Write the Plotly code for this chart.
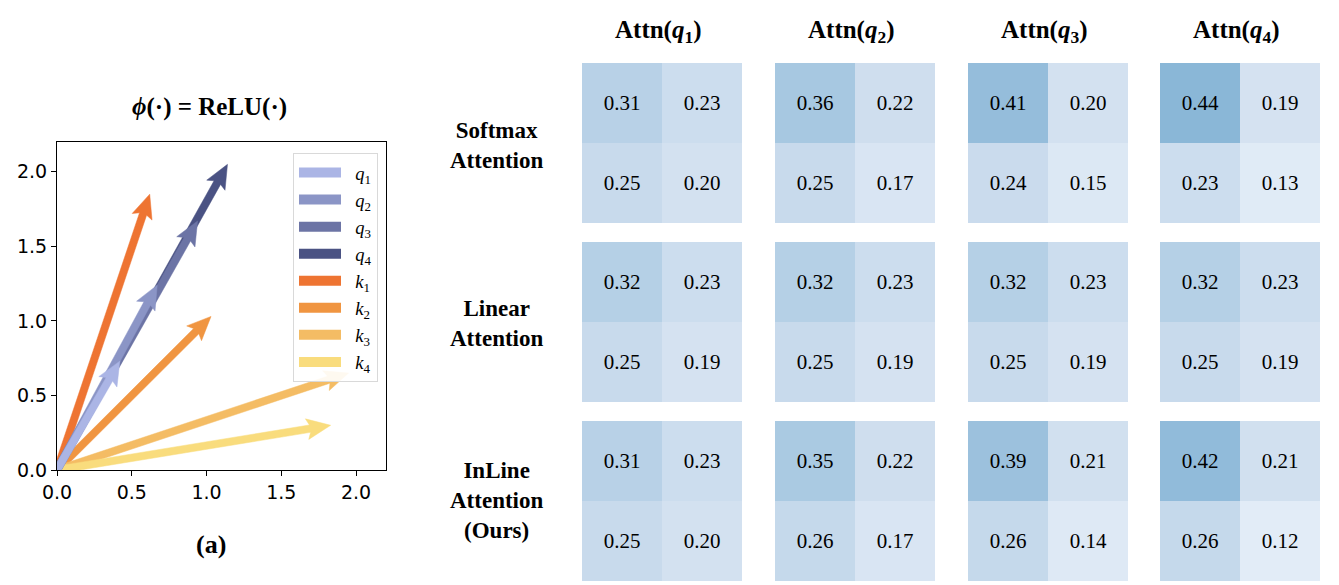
import numpy as np
import plotly.graph_objects as go

# ---------------- data ----------------
vec_names = ["q1", "q2", "q3", "q4", "k1", "k2", "k3", "k4"]
vec_labels = ["<i>q</i><sub>1</sub>", "<i>q</i><sub>2</sub>", "<i>q</i><sub>3</sub>", "<i>q</i><sub>4</sub>",
              "<i>k</i><sub>1</sub>", "<i>k</i><sub>2</sub>", "<i>k</i><sub>3</sub>", "<i>k</i><sub>4</sub>"]
vec_x = [0.42, 0.67, 0.94, 1.14, 0.62, 1.03, 1.95, 1.83]
vec_y = [0.73, 1.24, 1.67, 2.05, 1.85, 1.03, 0.65, 0.30]
vec_colors = ["#abb5e5", "#8b95c6", "#6c74a5", "#4a5283",
              "#ee7432", "#f09541", "#f4bc64", "#f9dc7d"]
draw_order = [4, 5, 6, 7, 3, 2, 1, 0]

col_titles = ["<b>Attn(<i>q</i><sub>1</sub>)</b>", "<b>Attn(<i>q</i><sub>2</sub>)</b>",
              "<b>Attn(<i>q</i><sub>3</sub>)</b>", "<b>Attn(<i>q</i><sub>4</sub>)</b>"]
row_titles = ["<b>Softmax<br>Attention</b>", "<b>Linear<br>Attention</b>",
              "<b>InLine<br>Attention<br>(Ours)</b>"]

softmax = [[[0.31, 0.23], [0.25, 0.20]], [[0.36, 0.22], [0.25, 0.17]],
           [[0.41, 0.20], [0.24, 0.15]], [[0.44, 0.19], [0.23, 0.13]]]
linear = [[[0.32, 0.23], [0.25, 0.19]], [[0.32, 0.23], [0.25, 0.19]],
          [[0.32, 0.23], [0.25, 0.19]], [[0.32, 0.23], [0.25, 0.19]]]
inline = [[[0.31, 0.23], [0.25, 0.20]], [[0.35, 0.22], [0.26, 0.17]],
          [[0.39, 0.21], [0.26, 0.14]], [[0.42, 0.21], [0.26, 0.12]]]
attn_rows = [softmax, linear, inline]

zmin, zmax = 0.12, 0.44
cs_vals = [0.12, 0.20, 0.25, 0.32, 0.44]
cs_cols = ["rgb(226,236,247)", "rgb(211,225,240)", "rgb(200,218,236)",
           "rgb(181,208,230)", "rgb(138,183,215)"]
colorscale = [[(v - zmin) / (zmax - zmin), c] for v, c in zip(cs_vals, cs_cols)]

# ---------------- figure ----------------
W, H = 1339, 585
fig = go.Figure()

# arrow geometry (data units)
w_half, head_half, head_len, head_ax = 0.025, 0.07, 0.16, 0.14


def arrow_poly(tx, ty):
    L = np.hypot(tx, ty)
    u = np.array([tx, ty]) / L
    n = np.array([-u[1], u[0]])
    pts = [w_half * n,
           (L - head_ax) * u + w_half * n,
           (L - head_len) * u + head_half * n,
           L * u,
           (L - head_len) * u - head_half * n,
           (L - head_ax) * u - w_half * n,
           -w_half * n]
    pts.append(pts[0])
    return [p[0] for p in pts], [p[1] for p in pts]


for i in draw_order:
    px, py = arrow_poly(vec_x[i], vec_y[i])
    fig.add_trace(go.Scatter(x=px, y=py, mode="lines", fill="toself",
                             fillcolor=vec_colors[i], line=dict(width=0.5, color=vec_colors[i]),
                             showlegend=False, hoverinfo="skip", xaxis="x", yaxis="y"))

for i in range(len(vec_names)):
    fig.add_trace(go.Scatter(x=[None], y=[None], mode="lines",
                             name="\u00a0\u00a0" + vec_labels[i],
                             line=dict(width=18, color=vec_colors[i]),
                             showlegend=True, xaxis="x", yaxis="y", legendrank=i + 1))

# heatmap grid
x_blocks = [(582, 742), (775, 935), (968, 1128), (1160, 1320)]
y_blocks = [(63, 223), (242, 402), (421, 581)]

tickfont = dict(family="DejaVu Sans", size=19, color="black")
layout = dict(
    width=W, height=H, margin=dict(l=0, r=0, t=0, b=0, autoexpand=False),
    paper_bgcolor="white", plot_bgcolor="white",
    showlegend=True,
    legend=dict(x=293 / W, y=1 - 153 / H, xanchor="left", yanchor="top",
                bgcolor="rgba(255,255,255,0.9)", bordercolor="#d9d9d9", borderwidth=1,
                font=dict(family="Liberation Serif", size=18.5, color="black"),
                itemwidth=42, traceorder="normal"),
    xaxis=dict(domain=[57 / W, 386 / W], range=[0, 2.2], dtick=0.5, tickformat=".1f",
               showline=True, mirror=True, linecolor="black", linewidth=1.2,
               ticks="outside", ticklen=5, tickcolor="black", showgrid=False, zeroline=False,
               tickfont=tickfont),
    yaxis=dict(domain=[1 - 470 / H, 1 - 142 / H], range=[0, 2.2], dtick=0.5, tickformat=".1f",
               showline=True, mirror=True, linecolor="black", linewidth=1.2,
               ticks="outside", ticklen=5, tickcolor="black", showgrid=False, zeroline=False,
               tickfont=tickfont),
)

k = 2
for r, row in enumerate(attn_rows):
    for c, mat in enumerate(row):
        fig.add_trace(go.Heatmap(z=mat, x=[0, 1], y=[0, 1], zmin=zmin, zmax=zmax,
                                 colorscale=colorscale, showscale=False,
                                 texttemplate="%{z:.2f}",
                                 textfont=dict(family="Liberation Serif", size=21, color="black"),
                                 hoverinfo="skip", xaxis=f"x{k}", yaxis=f"y{k}"))
        x0, x1 = x_blocks[c]
        y0, y1 = y_blocks[r]
        layout[f"xaxis{k}"] = dict(domain=[x0 / W, x1 / W], range=[-0.5, 1.5], visible=False,
                                   anchor=f"y{k}")
        layout[f"yaxis{k}"] = dict(domain=[1 - y1 / H, 1 - y0 / H], range=[1.5, -0.5], visible=False,
                                   anchor=f"x{k}")
        k += 1

fig.update_layout(**layout)

annots = []
for c, t in enumerate(col_titles):
    xc = (x_blocks[c][0] + x_blocks[c][1]) / 2 - 4
    annots.append(dict(text=t, x=xc / W, y=1 - 31 / H, xref="paper", yref="paper",
                       showarrow=False, xanchor="center", yanchor="middle",
                       font=dict(family="Liberation Serif", size=25, color="black")))
row_y = [145, 323, 500]
for r, t in enumerate(row_titles):
    annots.append(dict(text=t, x=496 / W, y=1 - row_y[r] / H, xref="paper", yref="paper",
                       showarrow=False, xanchor="center", yanchor="middle",
                       font=dict(family="Liberation Serif", size=23, color="black")))
annots.append(dict(text="<b><i>ϕ</i>(·) = ReLU(·)</b>", x=209 / W, y=1 - 107 / H,
                   xref="paper", yref="paper", showarrow=False,
                   xanchor="center", yanchor="middle",
                   font=dict(family="Liberation Serif", size=25, color="black")))
annots.append(dict(text="<b>(a)</b>", x=211 / W, y=1 - 544 / H, xref="paper", yref="paper",
                   showarrow=False, xanchor="center", yanchor="middle",
                   font=dict(family="Liberation Serif", size=26, color="black")))
fig.update_layout(annotations=annots)

fig.write_html("out.html")
